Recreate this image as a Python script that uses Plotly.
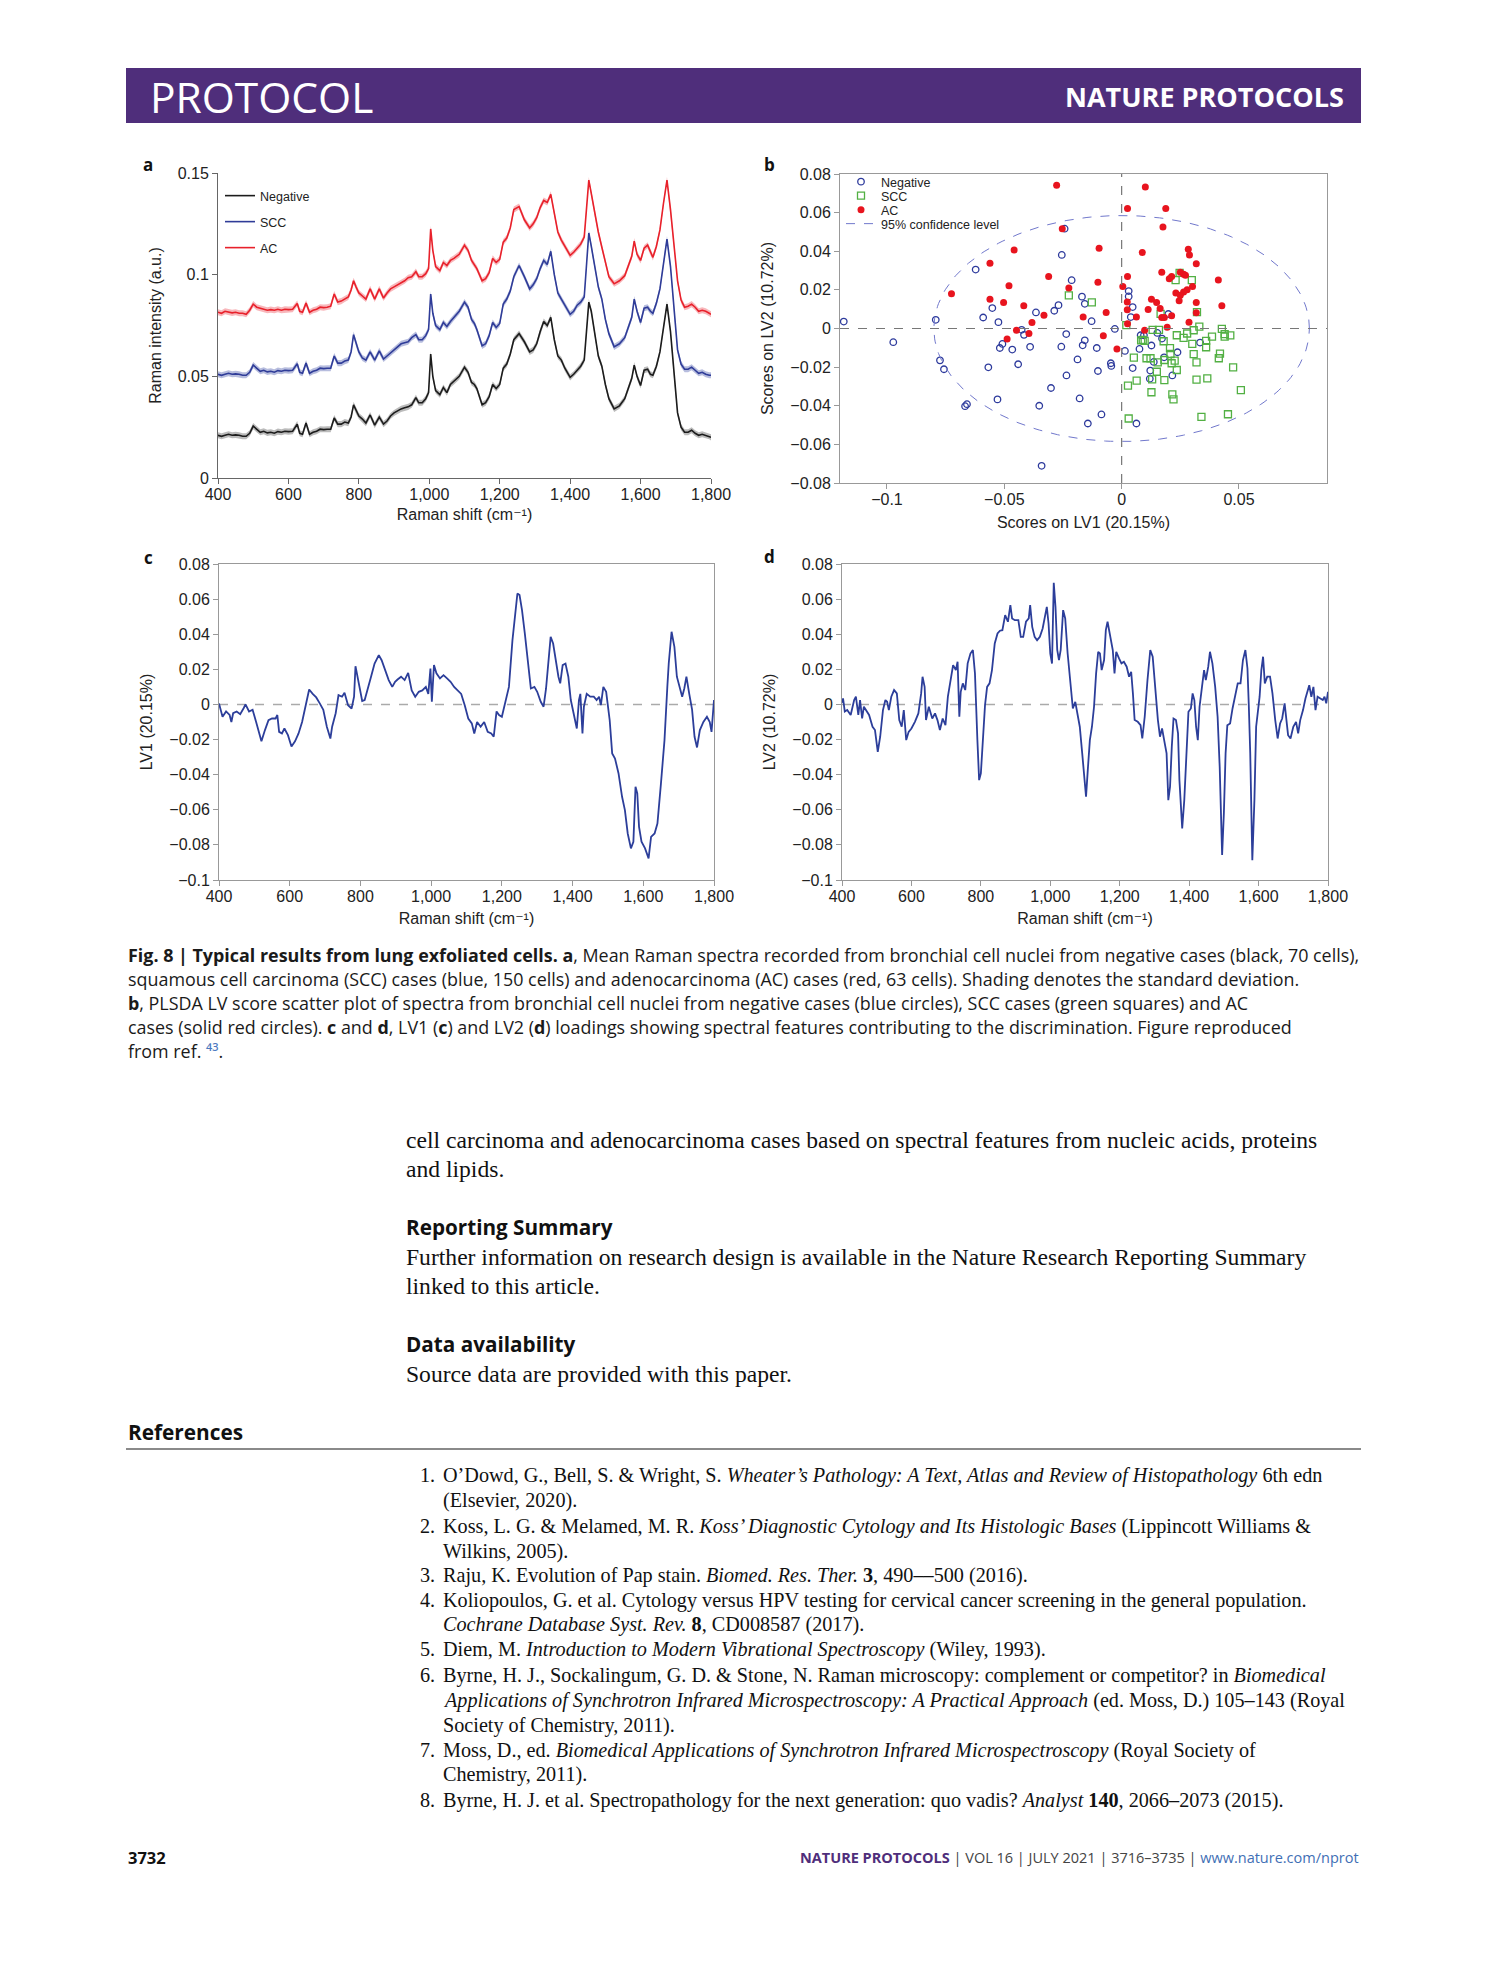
import numpy as np
import plotly.graph_objects as go

W, H = 1489, 1978
def fx(px): return px / W
def fy(py): return 1 - py / H

SANS = "Liberation Sans, Arial, DejaVu Sans, sans-serif"
HUM = "Open Sans, Noto Sans, DejaVu Sans, sans-serif"
SERIF = "Liberation Serif, Times New Roman, serif"

# ---------------- Panel a: mean Raman spectra ----------------
shift = [400,410,420,430,440,450,460,470,480,490,
         500,510,520,530,540,550,560,570,580,590,
         600,612,625,632,640,650,660,670,680,690,
         700,710,720,730,740,750,760,770,778,785,
         792,800,810,820,832,845,858,870,880,890,
         900,910,920,930,940,950,962,970,980,990,
         998,1004,1010,1018,1030,1040,1050,1060,1070,1085,
         1100,1110,1120,1128,1135,1150,1160,1170,1180,1190,
         1200,1210,1220,1230,1240,1255,1270,1285,1295,1305,
         1315,1325,1335,1345,1355,1365,1375,1385,1400,1410,
         1420,1430,1440,1447,1453,1460,1470,1480,1490,1500,
         1510,1525,1540,1555,1565,1575,1582,1590,1600,1610,
         1620,1628,1635,1645,1655,1665,1675,1685,1695,1705,
         1715,1725,1735,1745,1755,1765,1775,1785,1795,1800]

negative = [0.021,0.0205,0.021,0.0215,0.021,0.0212,0.021,0.0205,0.0205,0.022,
            0.0255,0.024,0.0225,0.023,0.0222,0.0225,0.022,0.0228,0.0225,0.023,
            0.0228,0.023,0.0265,0.022,0.0215,0.027,0.0215,0.0225,0.023,0.024,
            0.0238,0.024,0.024,0.0295,0.0265,0.0265,0.0275,0.027,0.030,0.036,
            0.033,0.0305,0.029,0.027,0.031,0.026,0.030,0.0265,0.028,0.0305,
            0.032,0.033,0.034,0.0345,0.035,0.036,0.0395,0.037,0.037,0.039,
            0.042,0.061,0.050,0.043,0.041,0.0445,0.042,0.046,0.0475,0.050,
            0.0545,0.052,0.047,0.046,0.044,0.036,0.037,0.040,0.046,0.044,
            0.046,0.054,0.056,0.061,0.068,0.071,0.067,0.062,0.063,0.066,
            0.072,0.077,0.075,0.079,0.068,0.060,0.058,0.054,0.0495,0.051,
            0.053,0.055,0.058,0.075,0.0865,0.082,0.071,0.060,0.055,0.046,
            0.039,0.034,0.0355,0.039,0.044,0.049,0.0555,0.050,0.0455,0.053,
            0.0535,0.051,0.0505,0.055,0.062,0.074,0.0855,0.072,0.050,0.032,
            0.025,0.0225,0.0225,0.0235,0.022,0.021,0.0215,0.021,0.0205,0.020]

scc = [0.051,0.0505,0.051,0.0515,0.051,0.0512,0.051,0.0505,0.0505,0.052,
       0.0555,0.054,0.0525,0.053,0.0522,0.0525,0.052,0.0528,0.0525,0.053,
       0.0528,0.053,0.0562,0.052,0.0515,0.0565,0.0515,0.0525,0.053,0.054,
       0.0538,0.054,0.054,0.060,0.0565,0.0565,0.0575,0.058,0.062,0.0705,
       0.066,0.062,0.059,0.058,0.062,0.058,0.0625,0.0585,0.060,0.0615,
       0.063,0.0645,0.066,0.0665,0.067,0.069,0.0705,0.068,0.068,0.070,
       0.073,0.0905,0.081,0.075,0.073,0.0765,0.0745,0.077,0.079,0.082,
       0.0865,0.084,0.078,0.076,0.073,0.065,0.066,0.070,0.0765,0.074,
       0.076,0.0855,0.088,0.092,0.099,0.1045,0.099,0.093,0.095,0.098,
       0.103,0.107,0.105,0.1115,0.100,0.091,0.088,0.085,0.0805,0.082,
       0.085,0.0865,0.089,0.106,0.1205,0.114,0.104,0.094,0.088,0.078,
       0.071,0.0645,0.066,0.069,0.074,0.079,0.088,0.082,0.0765,0.0835,
       0.084,0.082,0.081,0.086,0.093,0.106,0.1175,0.104,0.082,0.063,
       0.056,0.0535,0.0535,0.0545,0.053,0.0515,0.052,0.051,0.0505,0.0505]

ac = [0.0815,0.081,0.082,0.0815,0.0812,0.0815,0.081,0.081,0.0805,0.0825,
      0.0855,0.084,0.0835,0.083,0.0825,0.0828,0.0825,0.083,0.0825,0.083,
      0.0828,0.083,0.0858,0.082,0.0815,0.086,0.0815,0.0825,0.083,0.084,
      0.0838,0.084,0.0845,0.0905,0.0865,0.087,0.088,0.089,0.0925,0.097,
      0.094,0.091,0.0895,0.088,0.093,0.088,0.093,0.0885,0.091,0.093,
      0.094,0.095,0.096,0.097,0.0985,0.099,0.1015,0.099,0.099,0.1005,
      0.103,0.1225,0.112,0.104,0.102,0.106,0.1045,0.107,0.108,0.110,
      0.1145,0.112,0.107,0.105,0.103,0.097,0.098,0.101,0.108,0.106,
      0.1075,0.116,0.118,0.123,0.132,0.1335,0.127,0.123,0.125,0.128,
      0.133,0.1365,0.1355,0.1395,0.130,0.121,0.117,0.114,0.1095,0.111,
      0.113,0.115,0.1185,0.134,0.1465,0.140,0.130,0.121,0.1135,0.106,
      0.099,0.0955,0.097,0.0995,0.104,0.109,0.1165,0.110,0.107,0.113,
      0.1145,0.111,0.1085,0.114,0.122,0.135,0.1465,0.132,0.114,0.097,
      0.0875,0.084,0.0845,0.0855,0.084,0.082,0.0825,0.082,0.081,0.0805]

assert len(shift) == len(negative) == len(scc) == len(ac)

# standard deviation (shading half-width), estimated
negative_sd = 0.0015
scc_sd = 0.0015
ac_sd = 0.0015

# ---------------- Panel b: PLSDA LV scores ----------------
neg_pts = [(-0.1184,0.0036),(-0.0973,-0.0071),(-0.0792,0.0045),(-0.0774,-0.0165),(-0.0757,-0.0211),
           (-0.0667,-0.0402),(-0.0659,-0.0392),(-0.0622,0.0305),(-0.0590,0.0057),(-0.0551,0.0106),
           (-0.0568,-0.0201),(-0.0525,0.0033),(-0.0529,-0.0367),(-0.0519,-0.0101),(-0.0508,-0.0080),
           (-0.0466,-0.0109),(-0.0441,-0.0185),(-0.0426,-0.0007),(-0.0416,-0.0033),(-0.0390,-0.0095),
           (-0.0365,0.0083),(-0.0351,-0.0400),(-0.0341,-0.0711),(-0.0301,-0.0308),(-0.0287,0.0092),
           (-0.0269,0.0121),(-0.0257,-0.0094),(-0.0255,0.0381),(-0.0243,0.0517),(-0.0236,-0.0029),
           (-0.0235,-0.0243),(-0.0213,0.0250),(-0.0188,-0.0160),(-0.0179,-0.0362),(-0.0169,0.0165),
           (-0.0157,0.0128),(-0.0157,-0.0061),(-0.0166,-0.0087),(-0.0144,-0.0492),(-0.0128,0.0038),
           (-0.0106,-0.0101),(-0.0101,-0.0220),(-0.0086,-0.0445),(-0.0046,-0.0180),(-0.0044,-0.0194),
           (-0.0029,-0.0002),(0.0014,-0.0116),(0.0030,0.0194),(0.0030,0.0166),(0.0047,0.0111),
           (0.0039,0.0059),(0.0047,-0.0205),(0.0063,-0.0492),(0.0076,-0.0106),(0.0081,-0.0035),
           (0.0095,-0.0035),(0.0127,-0.0088),(0.0122,-0.0218),(0.0120,-0.0260),(0.0137,-0.0173),
           (0.0152,-0.0023),(0.0172,-0.0052),(0.0181,-0.0149),(0.0199,0.0075),(0.0216,-0.0243),
           (0.0238,-0.0123),(0.0334,-0.0073)]

scc_pts = [(-0.0225,0.0172),(-0.0127,0.0135),(0.0020,0.0017),(0.0027,-0.0296),(0.0030,-0.0466),
           (0.0052,-0.0151),(0.0064,-0.0270),(0.0083,-0.0062),(0.0090,-0.0059),(0.0098,-0.0064),
           (0.0106,-0.0154),(0.0123,-0.0154),(0.0127,-0.0330),(0.0130,-0.0263),(0.0132,-0.0007),
           (0.0154,-0.0175),(0.0150,-0.0224),(0.0159,-0.0007),(0.0166,0.0076),(0.0179,-0.0066),
           (0.0182,-0.0267),(0.0182,-0.0163),(0.0206,-0.0102),(0.0208,-0.0132),(0.0213,-0.0180),
           (0.0216,-0.0341),(0.0221,-0.0367),(0.0226,-0.0166),(0.0230,0.0250),(0.0235,-0.0035),
           (0.0235,-0.0215),(0.0247,0.0288),(0.0264,-0.0049),(0.0279,-0.0026),(0.0299,0.0250),
           (0.0301,-0.0080),(0.0307,-0.0009),(0.0307,-0.0133),(0.0319,-0.0175),(0.0321,0.0085),
           (0.0319,-0.0265),(0.0331,0.0010),(0.0340,-0.0458),(0.0360,-0.0064),(0.0360,-0.0097),
           (0.0365,-0.0258),(0.0385,-0.0042),(0.0414,-0.0154),(0.0419,-0.0130),(0.0427,-0.0002),
           (0.0439,-0.0029),(0.0439,-0.0042),(0.0463,-0.0036),(0.0453,-0.0444),(0.0475,-0.0201),
           (0.0508,-0.0319)]

ac_pts = [(-0.0277,0.0742),(0.0101,0.0733),(0.0025,0.0621),(0.0188,0.0621),(-0.0253,0.0517),
          (0.0176,0.0525),(-0.0458,0.0407),(-0.0096,0.0416),(0.0088,0.0393),(0.0284,0.0411),
          (0.0289,0.0380),(-0.0561,0.0338),(0.0318,0.0335),(0.0171,0.0291),(0.0250,0.0291),
          (0.0264,0.0281),(0.0272,0.0276),(-0.0311,0.0269),(0.0025,0.0269),(0.0213,0.0269),
          (0.0203,0.0258),(0.0412,0.0251),(-0.0725,0.0180),(-0.0480,0.0222),(-0.0101,0.0239),
          (0.0005,0.0218),(-0.0225,0.0210),(0.0302,0.0218),(0.0279,0.0201),(0.0264,0.0189),
          (0.0231,0.0184),(0.0250,0.0172),(-0.0561,0.0151),(0.0127,0.0151),(0.0024,0.0137),
          (0.0245,0.0144),(-0.0503,0.0135),(0.0149,0.0135),(0.0318,0.0135),(-0.0417,0.0118),
          (0.0427,0.0118),(0.0113,0.0099),(0.0164,0.0104),(0.0024,0.0097),(-0.0066,0.0083),
          (0.0318,0.0081),(-0.0331,0.0068),(-0.0164,0.0059),(0.0171,0.0057),(0.0182,0.0057),
          (0.0213,0.0066),(0.0063,0.0059),(0.0025,0.0024),(-0.0382,0.0031),(0.0287,0.0033),
          (0.0098,-0.0009),(0.0194,0.0007),(-0.0448,-0.0009),(-0.0395,-0.0026),(-0.0488,-0.0054),
          (-0.0078,-0.0038),(-0.0020,-0.0106)]

conf_center = (0.0, 0.0)
conf_radii = (0.0800, 0.0585)

# ---------------- Panels c, d: LV loadings ----------------
lv1 = [(400,0.0006),(405,-0.003),(410,-0.007),(420,-0.004),(430,-0.006),(435,-0.010),(440,-0.005),
       (450,-0.004),(460,-0.0055),(470,-0.002),(475,0.000),(485,-0.004),(495,-0.003),(505,-0.010),
       (515,-0.0165),(520,-0.021),(530,-0.0146),(540,-0.009),(550,-0.008),(560,-0.008),(565,-0.006),
       (570,-0.0156),(578,-0.0165),(585,-0.0137),(595,-0.0175),(605,-0.024),(615,-0.021),(625,-0.0165),
       (635,-0.010),(645,-0.0013),(655,0.0085),(665,0.006),(675,0.004),(685,0.0006),(695,-0.003),
       (705,-0.0127),(710,-0.0156),(715,-0.0194),(720,-0.0127),(730,-0.005),(738,0.0053),(748,0.0044),
       (755,0.0066),(765,-0.0004),(775,-0.0023),(782,0.0044),(786,0.0218),(792,0.0158),(798,0.010),
       (805,0.002),(812,0.0025),(820,0.008),(830,0.0158),(840,0.0233),(852,0.0281),(860,0.0252),
       (870,0.0196),(880,0.0139),(890,0.010),(898,0.0129),(905,0.0142),(915,0.0158),(925,0.0139),
       (935,0.018),(945,0.008),(955,0.0044),(965,0.0072),(975,0.008),(985,0.010),(992,0.006),
       (998,0.0205),(1002,0.0015),(1008,0.0224),(1015,0.0177),(1025,0.0148),(1035,0.0167),(1045,0.0148),
       (1055,0.0129),(1065,0.010),(1075,0.008),(1085,0.006),(1095,-0.0004),(1105,-0.008),(1115,-0.0108),
       (1122,-0.0165),(1130,-0.010),(1140,-0.0127),(1150,-0.010),(1160,-0.0156),(1170,-0.0165),(1177,-0.0184),
       (1185,-0.004),(1192,-0.006),(1200,-0.007),(1210,0.0025),(1220,0.010),(1230,0.0366),(1238,0.050),
       (1244,0.0632),(1250,0.0623),(1257,0.0537),(1265,0.0404),(1275,0.0233),(1282,0.0091),(1292,0.010),
       (1300,0.0072),(1310,0.0015),(1318,-0.0013),(1325,0.0091),(1333,0.0252),(1338,0.0385),(1345,0.0347),
       (1352,0.0252),(1360,0.0158),(1365,0.012),(1372,0.0224),(1380,0.0233),(1388,0.0158),(1395,0.0025),
       (1405,-0.007),(1412,-0.0137),(1418,0.0025),(1422,0.006),(1428,-0.0165),(1432,-0.0013),(1440,0.006),
       (1450,0.0044),(1460,0.0044),(1468,0.0025),(1475,0.0044),(1480,-0.0004),(1487,0.010),(1495,0.0072),
       (1505,-0.009),(1512,-0.0279),(1520,-0.0308),(1530,-0.0393),(1540,-0.0526),(1548,-0.0602),(1556,-0.0735),
       (1565,-0.082),(1572,-0.0782),(1578,-0.0469),(1583,-0.0507),(1588,-0.0697),(1595,-0.0782),(1605,-0.082),
       (1615,-0.0877),(1622,-0.0754),(1632,-0.0735),(1640,-0.0678),(1650,-0.045),(1660,-0.0203),(1668,0.010),
       (1672,0.0233),(1680,0.0414),(1688,0.0328),(1695,0.0158),(1702,0.010),(1710,0.0044),(1716,0.0091),
       (1722,0.0158),(1730,0.006),(1738,-0.003),(1745,-0.0184),(1752,-0.0245),(1760,-0.0146),(1770,-0.010),
       (1780,-0.007),(1788,-0.010),(1793,-0.0156),(1797,-0.003),(1800,0.0025)]

lv2 = [(400,0.001),(403,0.0034),(408,-0.004),(415,-0.0032),(425,-0.006),(435,0.0025),(440,0.0044),
       (447,-0.006),(452,0.0025),(458,-0.008),(463,-0.0013),(470,-0.0032),(478,-0.006),(488,-0.0127),
       (495,-0.0146),(503,-0.027),(510,-0.0184),(518,-0.0032),(525,0.0025),(530,0.0015),(535,-0.0032),
       (542,0.0044),(550,0.0082),(558,0.0063),(565,-0.0089),(572,-0.0127),(578,-0.0032),(585,-0.0203),
       (592,-0.0156),(600,-0.0137),(610,-0.0099),(620,-0.0051),(628,0.0063),(632,0.0158),(638,0.010),
       (642,-0.0089),(650,-0.0013),(660,-0.008),(668,-0.0051),(675,-0.0089),(682,-0.0146),(690,-0.008),
       (698,-0.0118),(705,0.0044),(712,0.0139),(720,0.0224),(728,0.0196),(733,0.0243),(738,-0.007),
       (742,0.0072),(748,0.012),(755,0.0082),(762,0.0234),(770,0.029),(777,0.031),(783,0.0177),
       (790,-0.0203),(795,-0.0431),(800,-0.0393),(805,-0.0203),(812,-0.0004),(818,0.010),(825,0.012),
       (832,0.0196),(840,0.0347),(848,0.0404),(855,0.042),(862,0.0423),(870,0.0509),(878,0.0471),
       (885,0.0566),(890,0.049),(898,0.048),(908,0.048),(915,0.0385),(922,0.0385),(930,0.0471),
       (938,0.049),(942,0.0566),(948,0.0442),(955,0.0385),(962,0.0366),(970,0.0385),(978,0.0433),
       (985,0.0518),(990,0.0556),(995,0.0461),(1000,0.029),(1005,0.0233),(1010,0.0693),(1015,0.0556),
       (1020,0.031),(1025,0.0252),(1030,0.031),(1037,0.0537),(1043,0.049),(1050,0.029),(1058,0.010),
       (1065,-0.0023),(1072,0.0015),(1078,-0.0051),(1085,-0.0127),(1092,-0.0279),(1098,-0.0393),(1103,-0.0526),
       (1108,-0.0374),(1114,-0.0203),(1120,-0.0127),(1126,-0.0013),(1132,0.0177),(1138,0.030),(1143,0.029),
       (1148,0.0196),(1155,0.0253),(1160,0.0423),(1165,0.0471),(1172,0.0385),(1180,0.031),(1185,0.0177),
       (1190,0.030),(1198,0.0262),(1205,0.0234),(1212,0.0243),(1220,0.0215),(1227,0.0158),(1233,0.0186),
       (1238,0.0063),(1243,-0.0089),(1252,-0.0099),(1260,-0.0118),(1265,-0.0194),(1272,-0.007),(1280,0.0139),
       (1288,0.031),(1295,0.0272),(1302,0.0082),(1310,-0.0089),(1316,-0.0184),(1322,-0.0137),(1328,-0.0203),
       (1335,-0.0279),(1340,-0.0545),(1345,-0.0469),(1350,-0.0241),(1355,-0.008),(1362,-0.0089),(1368,-0.0165),
       (1372,-0.0431),(1380,-0.0706),(1386,-0.0545),(1392,-0.0298),(1398,-0.0042),(1405,-0.0023),(1410,0.0063),
       (1415,0.0025),(1420,-0.0127),(1425,-0.0203),(1430,-0.0013),(1437,0.010),(1443,0.0196),(1448,0.0139),
       (1455,0.0215),(1460,0.030),(1467,0.0234),(1475,0.010),(1482,-0.007),(1488,-0.0355),(1495,-0.0858),
       (1500,-0.0621),(1505,-0.0279),(1510,-0.0118),(1518,-0.0108),(1525,-0.0023),(1532,0.0053),(1540,0.012),
       (1548,0.012),(1555,0.0253),(1562,0.031),(1568,0.0205),(1572,-0.0013),(1576,-0.0279),(1582,-0.0887),
       (1588,-0.0545),(1593,-0.0127),(1598,-0.0051),(1603,0.0044),(1608,0.0196),(1613,0.0272),(1618,0.012),
       (1625,0.0158),(1633,0.0158),(1640,0.0063),(1648,-0.0089),(1655,-0.0194),(1662,-0.0108),(1668,-0.008),
       (1675,0.0006),(1680,-0.0099),(1685,-0.0175),(1692,-0.0194),(1700,-0.0127),(1708,-0.0099),(1714,-0.0165),
       (1720,-0.0089),(1728,-0.0032),(1735,0.0034),(1740,0.0072),(1746,0.011),(1752,0.0044),(1758,0.010),
       (1764,-0.0032),(1770,0.0044),(1778,0.0034),(1785,0.0025),(1790,0.0044),(1795,0.0006),(1800,0.0072)]

shift_ticks = [400, 600, 800, 1000, 1200, 1400, 1600, 1800]
shift_ticktext = ["400", "600", "800", "1,000", "1,200", "1,400", "1,600", "1,800"]
int_ticks = [0, 0.05, 0.1, 0.15]
int_ticktext = ["0", "0.05", "0.1", "0.15"]
lv1s_ticks = [-0.1, -0.05, 0, 0.05]
lv1s_ticktext = ["\u22120.1", "\u22120.05", "0", "0.05"]
lvs_ticks = [-0.08, -0.06, -0.04, -0.02, 0, 0.02, 0.04, 0.06, 0.08]
lvs_ticktext = ["\u22120.08", "\u22120.06", "\u22120.04", "\u22120.02", "0", "0.02", "0.04", "0.06", "0.08"]
load_ticks = [-0.1, -0.08, -0.06, -0.04, -0.02, 0, 0.02, 0.04, 0.06, 0.08]
load_ticktext = ["\u22120.1", "\u22120.08", "\u22120.06", "\u22120.04", "\u22120.02", "0", "0.02", "0.04", "0.06", "0.08"]

# ---------------- build figure ----------------
fig = go.Figure()

series_a = [("Negative", negative, negative_sd, "#1c1c1c", "rgba(60,60,60,0.35)", "legend"),
            ("SCC", scc, scc_sd, "#2f3c98", "rgba(50,65,160,0.35)", "legend2"),
            ("AC", ac, ac_sd, "#e8212b", "rgba(235,50,60,0.35)", "legend3")]
xs = np.array(shift, dtype=float)
for name, yv, sd, col, fcol, lg in series_a:
    yv = np.array(yv)
    fig.add_trace(go.Scatter(x=np.concatenate([xs, xs[::-1]]),
                             y=np.concatenate([yv + sd, (yv - sd)[::-1]]),
                             fill="toself", fillcolor=fcol, line=dict(width=0),
                             hoverinfo="skip", showlegend=False, xaxis="x", yaxis="y"))
    fig.add_trace(go.Scatter(x=xs, y=yv, mode="lines", name=name, line=dict(color=col, width=1.6),
                             xaxis="x", yaxis="y", legend=lg))

# panel b
t = np.linspace(0, 2 * np.pi, 240)
fig.add_trace(go.Scatter(x=[p[0] for p in neg_pts], y=[p[1] for p in neg_pts], mode="markers",
                         name="Negative", marker=dict(symbol="circle-open", size=6.5, color="#2d3a9c",
                                                      line=dict(width=1.3)),
                         xaxis="x2", yaxis="y2", legend="legend4"))
fig.add_trace(go.Scatter(x=[p[0] for p in scc_pts], y=[p[1] for p in scc_pts], mode="markers",
                         name="SCC", marker=dict(symbol="square-open", size=7, color="#52b043",
                                                 line=dict(width=1.3)),
                         xaxis="x2", yaxis="y2", legend="legend5"))
fig.add_trace(go.Scatter(x=[p[0] for p in ac_pts], y=[p[1] for p in ac_pts], mode="markers",
                         name="AC", marker=dict(symbol="circle", size=7, color="#e8141e"),
                         xaxis="x2", yaxis="y2", legend="legend6"))
fig.add_trace(go.Scatter(x=conf_center[0] + conf_radii[0] * np.cos(t),
                         y=conf_center[1] + conf_radii[1] * np.sin(t), mode="lines",
                         name="95% confidence level", line=dict(color="#7178cc", width=1, dash="dash"),
                         xaxis="x2", yaxis="y2", legend="legend7"))

# panels c, d
fig.add_trace(go.Scatter(x=[p[0] for p in lv1], y=[p[1] for p in lv1], mode="lines",
                         line=dict(color="#2c3e9a", width=1.8), showlegend=False, xaxis="x3", yaxis="y3"))
fig.add_trace(go.Scatter(x=[p[0] for p in lv2], y=[p[1] for p in lv2], mode="lines",
                         line=dict(color="#2c3e9a", width=1.8), showlegend=False, xaxis="x4", yaxis="y4"))

tickfont = dict(family=SANS, size=16, color="#222")
titlefont = dict(family=SANS, size=16, color="#222")
common = dict(showgrid=False, zeroline=False, ticks="outside", ticklen=5, tickwidth=1,
              tickfont=tickfont, showline=True, linewidth=1, automargin=False)
xextra = dict(ticklabelstandoff=-3)

def ttl(text, standoff):
    return dict(text=text, font=titlefont, standoff=standoff)

def leg(px, py):
    return dict(x=fx(px), y=fy(py), xanchor="left", yanchor="middle", bgcolor="rgba(0,0,0,0)",
                font=dict(family=SANS, size=12.5, color="#222"), itemwidth=30, borderwidth=0)

RS = "Raman shift (cm\u207b\u00b9)"
fig.update_layout(
    width=W, height=H, margin=dict(l=0, r=0, t=0, b=0),
    paper_bgcolor="white", plot_bgcolor="white",
    xaxis=dict(domain=[fx(218), fx(711)], range=[400, 1800], tickvals=shift_ticks, ticktext=shift_ticktext,
               anchor="y", linecolor="#666", tickcolor="#666", title=ttl(RS, 6), **common, **xextra),
    yaxis=dict(domain=[fy(478), fy(173)], range=[0, 0.15], tickvals=int_ticks, ticktext=int_ticktext,
               anchor="x", linecolor="#666", tickcolor="#666", title=ttl("Raman intensity (a.u.)", 12), **common),
    xaxis2=dict(domain=[fx(840), fx(1327)], range=[-0.12, 0.0875], tickvals=lv1s_ticks, ticktext=lv1s_ticktext,
                anchor="y2", mirror=True, linecolor="#999", tickcolor="#999",
                title=ttl("Scores on LV1 (20.15%)", 9), **common, **xextra),
    yaxis2=dict(domain=[fy(483), fy(174)], range=[-0.08, 0.08], tickvals=lvs_ticks, ticktext=lvs_ticktext,
                anchor="x2", mirror=True, linecolor="#999", tickcolor="#999",
                title=ttl("Scores on LV2 (10.72%)", 12), **common),
    xaxis3=dict(domain=[fx(219), fx(714)], range=[400, 1800], tickvals=shift_ticks, ticktext=shift_ticktext,
                anchor="y3", mirror=True, linecolor="#999", tickcolor="#999", title=ttl(RS, 8), **common, **xextra),
    yaxis3=dict(domain=[fy(880), fy(564)], range=[-0.1, 0.08], tickvals=load_ticks, ticktext=load_ticktext,
                anchor="x3", mirror=True, linecolor="#999", tickcolor="#999",
                title=ttl("LV1 (20.15%)", 12), **common),
    xaxis4=dict(domain=[fx(842), fx(1328)], range=[400, 1800], tickvals=shift_ticks, ticktext=shift_ticktext,
                anchor="y4", mirror=True, linecolor="#999", tickcolor="#999", title=ttl(RS, 8), **common, **xextra),
    yaxis4=dict(domain=[fy(880), fy(564)], range=[-0.1, 0.08], tickvals=load_ticks, ticktext=load_ticktext,
                anchor="x4", mirror=True, linecolor="#999", tickcolor="#999",
                title=ttl("LV2 (10.72%)", 12), **common),
    legend=leg(220, 196), legend2=leg(220, 222), legend3=leg(220, 248),
    legend4=leg(841, 182), legend5=leg(841, 196), legend6=leg(841, 210), legend7=leg(841, 224),
    showlegend=True,
)

shapes = []
# banner
shapes.append(dict(type="rect", xref="paper", yref="paper", x0=fx(126), x1=fx(1361), y0=fy(123), y1=fy(68),
                   fillcolor="#4f2e7b", line=dict(width=0), layer="below"))
# zero lines
shapes.append(dict(type="line", xref="x2 domain", yref="y2", x0=0, x1=1, y0=0, y1=0,
                   line=dict(color="#777", width=1.2, dash="dash")))
shapes.append(dict(type="line", xref="x2", yref="y2 domain", x0=0, x1=0, y0=0, y1=1,
                   line=dict(color="#777", width=1.2, dash="dash")))
shapes.append(dict(type="line", xref="x3 domain", yref="y3", x0=0, x1=1, y0=0, y1=0,
                   line=dict(color="#aaa", width=1.4, dash="dash"), layer="below"))
shapes.append(dict(type="line", xref="x4 domain", yref="y4", x0=0, x1=1, y0=0, y1=0,
                   line=dict(color="#aaa", width=1.4, dash="dash"), layer="below"))
# references rule
shapes.append(dict(type="line", xref="paper", yref="paper", x0=fx(126), x1=fx(1361), y0=fy(1449), y1=fy(1449),
                   line=dict(color="#8a8a8a", width=2)))
fig.update_layout(shapes=shapes)

ann = []
def A(px, py, text, size, family=SANS, color="#222", xanchor="left", yanchor="middle", angle=0):
    ann.append(dict(x=fx(px), y=fy(py), xref="paper", yref="paper", text=text, showarrow=False,
                    xanchor=xanchor, yanchor=yanchor, textangle=angle,
                    font=dict(family=family, size=size, color=color)))

# header
A(148, 96, "PROTOCOL", 42.5, HUM, "white")
A(1346, 97, "<b>NATURE PROTOCOLS</b>", 27, HUM, "white", xanchor="right")

# panel letters
A(148, 165, "<b>a</b>", 17, HUM, "#111", xanchor="center")
A(769, 165, "<b>b</b>", 17, HUM, "#111", xanchor="center")
A(148, 558, "<b>c</b>", 17, HUM, "#111", xanchor="center")
A(769, 557, "<b>d</b>", 17, HUM, "#111", xanchor="center")

# caption
cap = [
    "<b>Fig. 8 | Typical results from lung exfoliated cells. a</b>, Mean Raman spectra recorded from bronchial cell nuclei from negative cases (black, 70 cells),",
    "squamous cell carcinoma (SCC) cases (blue, 150 cells) and adenocarcinoma (AC) cases (red, 63 cells). Shading denotes the standard deviation.",
    "<b>b</b>, PLSDA LV score scatter plot of spectra from bronchial cell nuclei from negative cases (blue circles), SCC cases (green squares) and AC",
    "cases (solid red circles). <b>c</b> and <b>d</b>, LV1 (<b>c</b>) and LV2 (<b>d</b>) loadings showing spectral features contributing to the discrimination. Figure reproduced",
    "from ref. <span style='color:#4a78c0'>\u2074\u00b3</span>.",
]
for i, line in enumerate(cap):
    A(126, 955 + i * 24, line, 17.9, HUM, "#1a1a1a")

# body text
BODY = 23.6
A(404, 1140, "cell carcinoma and adenocarcinoma cases based on spectral features from nucleic acids, proteins", BODY, SERIF, "#111")
A(404, 1169, "and lipids.", BODY, SERIF, "#111")
A(404, 1227, "<b>Reporting Summary</b>", 20.7, HUM, "#111")
A(404, 1257, "Further information on research design is available in the Nature Research Reporting Summary", BODY, SERIF, "#111")
A(404, 1286, "linked to this article.", BODY, SERIF, "#111")
A(404, 1344, "<b>Data availability</b>", 20.7, HUM, "#111")
A(404, 1374, "Source data are provided with this paper.", BODY, SERIF, "#111")
A(126, 1432, "<b>References</b>", 20.8, HUM, "#111")

refs = [
    ("1.", "O\u2019Dowd, G., Bell, S. &amp; Wright, S. <i>Wheater\u2019s Pathology: A Text, Atlas and Review of Histopathology</i> 6th edn"),
    ("", "(Elsevier, 2020)."),
    ("2.", "Koss, L. G. &amp; Melamed, M. R. <i>Koss\u2019 Diagnostic Cytology and Its Histologic Bases</i> (Lippincott Williams &amp;"),
    ("", "Wilkins, 2005)."),
    ("3.", "Raju, K. Evolution of Pap stain. <i>Biomed. Res. Ther.</i> <b>3</b>, 490\u2013\u2013500 (2016)."),
    ("4.", "Koliopoulos, G. et al. Cytology versus HPV testing for cervical cancer screening in the general population."),
    ("", "<i>Cochrane Database Syst. Rev.</i> <b>8</b>, CD008587 (2017)."),
    ("5.", "Diem, M. <i>Introduction to Modern Vibrational Spectroscopy</i> (Wiley, 1993)."),
    ("6.", "Byrne, H. J., Sockalingum, G. D. &amp; Stone, N. Raman microscopy: complement or competitor? in <i>Biomedical</i>"),
    ("", "<i>Applications of Synchrotron Infrared Microspectroscopy: A Practical Approach</i> (ed. Moss, D.) 105\u2013143 (Royal"),
    ("", "Society of Chemistry, 2011)."),
    ("7.", "Moss, D., ed. <i>Biomedical Applications of Synchrotron Infrared Microspectroscopy</i> (Royal Society of"),
    ("", "Chemistry, 2011)."),
    ("8.", "Byrne, H. J. et al. Spectropathology for the next generation: quo vadis? <i>Analyst</i> <b>140</b>, 2066\u20132073 (2015)."),
]
ref_y = [1475, 1500, 1526, 1551, 1575, 1600, 1624, 1649, 1675, 1700, 1725, 1750, 1774, 1800]
REF = 20.2
for (num, txt), yy in zip(refs, ref_y):
    if num:
        A(437, yy, num, REF, SERIF, "#111", xanchor="right")
    A(441, yy, txt, REF, SERIF, "#111")

# footer
A(126, 1857, "<b>3732</b>", 16.5, HUM, "#111")
A(1361, 1857, "<b><span style='color:#4f2e7b'>NATURE PROTOCOLS</span></b>"
              "<span style='color:#444'> | VOL 16 | JULY 2021 | 3716\u20133735 | </span>"
              "<span style='color:#3f6fb5'>www.nature.com/nprot</span>", 14.5, HUM, "#444", xanchor="right")

fig.update_layout(annotations=ann)
fig.write_html("out.html", config={"displayModeBar": False},
               post_script="document.documentElement.style.margin='0';document.body.style.margin='0';"
                           "document.documentElement.style.overflow='hidden';document.body.style.overflow='hidden';")
